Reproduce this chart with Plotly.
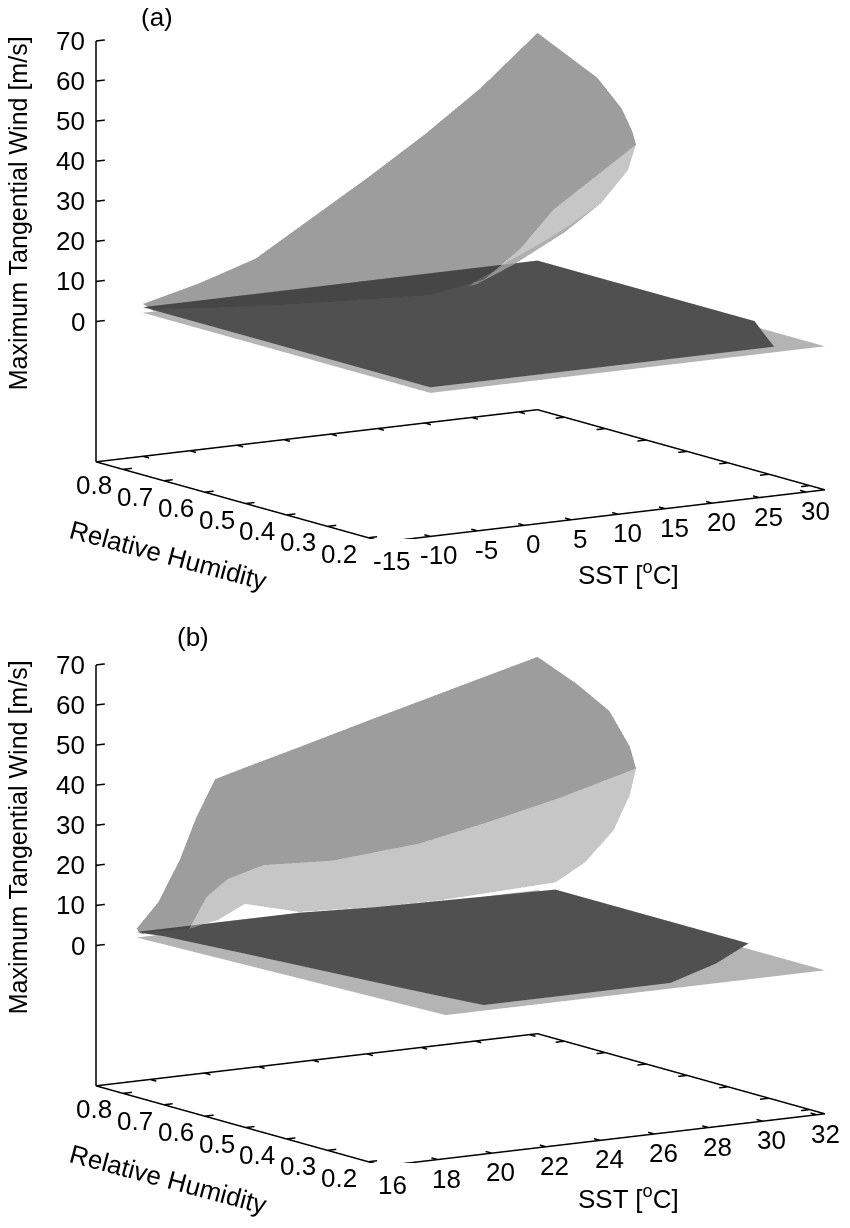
import plotly.graph_objects as go

# ---------------- shared axes ----------------
rh_range = [0.163, 0.866]
wind_range = [-35, 70]
rh_ticks = [0.2, 0.3, 0.4, 0.5, 0.6, 0.7, 0.8]
wind_ticks = [0, 10, 20, 30, 40, 50, 60, 70]

# ---------------- panel (a) ----------------
a_sst_range = [-15, 32]
a_sst_ticks = [-15, -10, -5, 0, 5, 10, 15, 20, 25, 30]

# upper (strong, stable) branch: one row per SST, from fold to RH max
a_up_sst = [-10, -4, 2, 8, 14, 20, 23, 26, 29, 32]
a_up_rh = [
    [0.84, 0.846, 0.853, 0.86, 0.866],
    [0.80, 0.815, 0.83, 0.85, 0.866],
    [0.77, 0.79, 0.815, 0.84, 0.866],
    [0.75, 0.775, 0.805, 0.835, 0.866],
    [0.73, 0.76, 0.795, 0.83, 0.866],
    [0.72, 0.74, 0.78, 0.825, 0.866],
    [0.70, 0.715, 0.75, 0.81, 0.866],
    [0.69, 0.70, 0.735, 0.80, 0.866],
    [0.655, 0.665, 0.70, 0.77, 0.866],
    [0.625, 0.634, 0.66, 0.72, 0.866],
]
a_up_wind = [
    [2, 2.3, 2.6, 2.8, 3],
    [2, 3.3, 4.5, 5.6, 6.5],
    [2, 4.5, 7, 9.2, 11],
    [2, 7.5, 12.5, 16.5, 19.5],
    [2, 10, 17, 23, 28],
    [5, 14, 23, 30.5, 37],
    [12.5, 19, 27, 35, 42],
    [21.5, 26, 33, 40.5, 47],
    [30, 34, 40, 46.5, 53],
    [38, 41, 46, 52, 59],
]

# middle (unstable) branch
a_mid_sst = [20, 23, 26, 29, 32]
a_mid_rh = [
    [0.72, 0.73, 0.74, 0.75, 0.76],
    [0.70, 0.725, 0.75, 0.775, 0.80],
    [0.69, 0.715, 0.75, 0.79, 0.83],
    [0.655, 0.68, 0.73, 0.80, 0.866],
    [0.625, 0.645, 0.71, 0.79, 0.866],
]
a_mid_wind = [
    [5, 4, 3.2, 2.6, 2.2],
    [12.5, 8, 5.2, 3.4, 2.2],
    [21.5, 14, 8.5, 4.8, 2.4],
    [30, 22, 14, 7.5, 3],
    [38, 31, 21, 13, 6],
]

# lower (weak, stable) branch: one row per RH
a_low_rh = [0.163, 0.25, 0.335, 0.6, 0.866]
a_low_sst = [
    [-10, 2.2, 14.4, 26.6],
    [-10, 3.1, 16.2, 29.3],
    [-10, 4, 18, 32],
    [-10, 4, 18, 32],
    [-10, 4, 18, 32],
]
a_low_wind = [
    [2.2, 2.2, 2.2, 2.2],
    [2.2, 2.2, 2.2, 2.2],
    [2.2, 2.2, 2.2, 2.2],
    [2.2, 2.2, 2.2, 2.2],
    [2.2, 2.2, 2.2, 2.2],
]

# near-zero underside
a_base_rh = [0.163, 0.866]
a_base_sst = [[-10, 32], [-10, 32]]
a_base_wind = [[0.8, 0.8], [0.8, 0.8]]

# ---------------- panel (b) ----------------
b_sst_range = [16, 32.3]
b_sst_ticks = [16, 18, 20, 22, 24, 26, 28, 30, 32]

b_up_sst = [17.5, 18.3, 19.1, 19.7, 20.4, 21.5, 23.5, 26, 28, 30, 32.3]
b_up_rh = [
    [0.855, 0.858, 0.861, 0.864, 0.866],
    [0.85, 0.854, 0.858, 0.862, 0.866],
    [0.845, 0.85, 0.855, 0.861, 0.866],
    [0.84, 0.845, 0.852, 0.86, 0.866],
    [0.835, 0.842, 0.85, 0.858, 0.866],
    [0.82, 0.83, 0.84, 0.853, 0.866],
    [0.785, 0.795, 0.815, 0.84, 0.866],
    [0.74, 0.755, 0.785, 0.825, 0.866],
    [0.70, 0.715, 0.75, 0.81, 0.866],
    [0.66, 0.675, 0.72, 0.79, 0.866],
    [0.625, 0.64, 0.69, 0.77, 0.866],
]
b_up_wind = [
    [2, 2.2, 2.5, 2.8, 3],
    [2, 3.5, 5.5, 7.5, 9],
    [2, 6, 10, 14.5, 19],
    [10, 15, 20, 25, 29],
    [14, 21, 28, 34, 38],
    [17, 25, 31, 36, 40],
    [17.5, 26, 33, 39, 43.5],
    [21, 30, 38, 43.5, 48],
    [26, 34, 41.5, 47, 51.5],
    [31.5, 38.5, 46, 51, 55],
    [38, 43, 50.5, 55, 59],
]

b_mid_sst = [19.1, 19.7, 20.4, 21.5, 23.5, 26, 28, 30, 32.3]
b_mid_rh = [
    [0.845, 0.845, 0.845, 0.845, 0.845],
    [0.84, 0.843, 0.846, 0.85, 0.855],
    [0.835, 0.84, 0.846, 0.853, 0.86],
    [0.82, 0.83, 0.842, 0.855, 0.866],
    [0.785, 0.80, 0.82, 0.845, 0.866],
    [0.74, 0.76, 0.785, 0.81, 0.835],
    [0.70, 0.715, 0.745, 0.78, 0.82],
    [0.66, 0.675, 0.71, 0.76, 0.82],
    [0.625, 0.64, 0.68, 0.75, 0.822],
]
b_mid_wind = [
    [2, 2, 2, 2, 2],
    [10, 8, 6, 4, 2.5],
    [14, 10.5, 7.5, 5, 3],
    [17, 12.5, 9.5, 7.5, 6],
    [17.5, 11, 6.5, 3.8, 2.4],
    [21, 14, 8.5, 5, 2.6],
    [26, 19, 12, 7, 3],
    [31.5, 24, 15.5, 8.5, 3.5],
    [38, 31, 21, 11, 4],
]

b_low_rh = [0.163, 0.25, 0.35, 0.5, 0.65, 0.75, 0.822, 0.845, 0.866]
b_low_sst = [
    [19.7, 22.0, 24.3, 26.6],
    [19.4, 22.8, 26.2, 29.6],
    [19.1, 23.5, 27.9, 32.3],
    [18.7, 23.2, 27.8, 32.3],
    [18.3, 23.0, 27.6, 32.3],
    [18.0, 22.8, 27.5, 32.3],
    [17.8, 22.6, 27.5, 32.3],
    [17.6, 20.5, 23.5, 26.0],
    [17.5, 19.5, 21.5, 23.5],
]
b_low_wind = [[2.2, 2.2, 2.2, 2.2] for _ in b_low_rh]

b_base_rh = [0.163, 0.866]
b_base_sst = [[18.3, 32.3], [17.5, 32.3]]
b_base_wind = [[0.8, 0.8], [0.8, 0.8]]

DARK = "#505050"
UPPER = "#3c3c3c"
MID = "#a0a0a0"
LIGHT = "#b4b4b4"
FONT = "Liberation Sans, Arial, sans-serif"
FS = 26

flat = dict(ambient=1.0, diffuse=0.0, specular=0.0, roughness=1.0, fresnel=0.0)


def rows_by_sst(sst, rh, wind, color, opacity, scene):
    xs = [[t] * len(r) for t, r in zip(sst, rh)]
    return go.Surface(x=xs, y=rh, z=wind, surfacecolor=wind,
                      colorscale=[[0, color], [1, color]], showscale=False,
                      opacity=opacity, lighting=flat, hoverinfo="skip",
                      scene=scene)


def rows_by_rh(rh, sst, wind, color, opacity, scene):
    ys = [[r] * len(t) for r, t in zip(rh, sst)]
    return go.Surface(x=sst, y=ys, z=wind, surfacecolor=wind,
                      colorscale=[[0, color], [1, color]], showscale=False,
                      opacity=opacity, lighting=flat, hoverinfo="skip",
                      scene=scene)


def frame(sst_range, sst_ticks, scene):
    # base rectangle + vertical wind axis, with short inward ticks
    t0, t1 = sst_range
    r0, r1 = rh_range
    lo, hi = wind_range
    xs = [t0, t1, t1, t0, t0, None, t0, t0, None]
    ys = [r0, r0, r1, r1, r0, None, r1, r1, None]
    zs = [lo, lo, lo, lo, lo, None, lo, hi, None]
    dt = (t1 - t0) * 0.02
    dr = 0.015
    for t in sst_ticks:
        xs += [t, t, None, t, t, None]
        ys += [r0, r0 + dr, None, r1, r1 - dr, None]
        zs += [lo, lo, None, lo, lo, None]
    for r in rh_ticks:
        xs += [t0, t0 + dt, None, t1, t1 - dt, None]
        ys += [r, r, None, r, r, None]
        zs += [lo, lo, None, lo, lo, None]
    for v in wind_ticks:
        xs += [t0, t0 + dt, None]
        ys += [r1, r1, None]
        zs += [v, v, None]
    return go.Scatter3d(x=xs, y=ys, z=zs, mode="lines",
                        line=dict(color="black", width=3),
                        hoverinfo="skip", showlegend=False, scene=scene)


fig = go.Figure()
fig.add_trace(rows_by_rh(a_base_rh, a_base_sst, a_base_wind, LIGHT, 1.0, "scene"))
fig.add_trace(rows_by_rh(a_low_rh, a_low_sst, a_low_wind, DARK, 1.0, "scene"))
fig.add_trace(rows_by_sst(a_mid_sst, a_mid_rh, a_mid_wind, MID, 0.6, "scene"))
fig.add_trace(rows_by_sst(a_up_sst, a_up_rh, a_up_wind, UPPER, 0.5, "scene"))
fig.add_trace(frame(a_sst_range, a_sst_ticks, "scene"))

fig.add_trace(rows_by_rh(b_base_rh, b_base_sst, b_base_wind, LIGHT, 1.0, "scene2"))
fig.add_trace(rows_by_rh(b_low_rh, b_low_sst, b_low_wind, DARK, 1.0, "scene2"))
fig.add_trace(rows_by_sst(b_mid_sst, b_mid_rh, b_mid_wind, MID, 0.6, "scene2"))
fig.add_trace(rows_by_sst(b_up_sst, b_up_rh, b_up_wind, UPPER, 0.5, "scene2"))
fig.add_trace(frame(b_sst_range, b_sst_ticks, "scene2"))


def axis(rng):
    # a hair wider than the drawn frame so the frame lines are not clipped
    pad = (rng[1] - rng[0]) * 0.004
    return dict(title=dict(text=""), range=[rng[0] - pad, rng[1] + pad],
                showticklabels=False, showbackground=False, showgrid=False,
                zeroline=False, showline=False, ticks="", showspikes=False)


def labels(sst_range, sst_ticks):
    f = dict(size=FS, family=FONT, color="black")
    lo = wind_range[0]
    t0, t1 = sst_range
    out = []
    for v in wind_ticks:
        out.append(dict(x=t0, y=rh_range[1], z=v, text=str(v), showarrow=False,
                        xanchor="right", xshift=-9, font=f))
    for t in sst_ticks:
        out.append(dict(x=t, y=rh_range[0], z=lo, text=str(t), showarrow=False,
                        xshift=9, yshift=-19, font=f))
    for r in rh_ticks:
        out.append(dict(x=t0, y=r, z=lo, text=f"{r:.1f}", showarrow=False,
                        xshift=-29, yshift=-16, font=f))
    out.append(dict(x=t0, y=rh_range[1], z=27, text="Maximum Tangential Wind [m/s]",
                    showarrow=False, textangle=-90, xshift=-78,
                    font=dict(size=25, family=FONT, color="black")))
    out.append(dict(x=t0, y=(rh_range[0] + rh_range[1]) / 2, z=lo,
                    text="Relative Humidity", showarrow=False, textangle=15,
                    xshift=-72, yshift=-53, font=f))
    out.append(dict(x=(t0 + t1) / 2, y=rh_range[0], z=lo,
                    text="SST [<sup>o</sup>C]", showarrow=False,
                    xshift=24, yshift=-58, font=f))
    return out


camera = dict(eye=dict(x=-2.1366, y=-3.3097, z=0.6960),
              center=dict(x=0.0098, y=-0.0129, z=-0.0300),
              up=dict(x=0, y=0, z=1),
              projection=dict(type="orthographic"))


def scene(sst_range, sst_ticks, ydom):
    return dict(domain=dict(x=[0.074, 1.0], y=ydom),
                xaxis=axis(sst_range),
                yaxis=axis(rh_range),
                zaxis=axis(wind_range),
                aspectmode="manual", aspectratio=dict(x=2, y=2, z=1.625),
                camera=camera, dragmode=False,
                annotations=labels(sst_range, sst_ticks))


fig.update_layout(
    width=850, height=1228, margin=dict(l=0, r=0, t=0, b=0),
    paper_bgcolor="white", showlegend=False,
    scene=scene(a_sst_range, a_sst_ticks, [0.5676, 1.0]),
    scene2=scene(b_sst_range, b_sst_ticks, [0.0594, 0.4919]),
    annotations=[
        dict(text="(a)", x=149 / 850, y=1 - 9 / 1228, xref="paper", yref="paper",
             xanchor="center", yanchor="middle", showarrow=False,
             font=dict(size=FS, family=FONT, color="black")),
        dict(text="(b)", x=185 / 850, y=1 - 629 / 1228, xref="paper", yref="paper",
             xanchor="center", yanchor="middle", showarrow=False,
             font=dict(size=FS, family=FONT, color="black")),
    ],
)

fig.write_html("out.html")
